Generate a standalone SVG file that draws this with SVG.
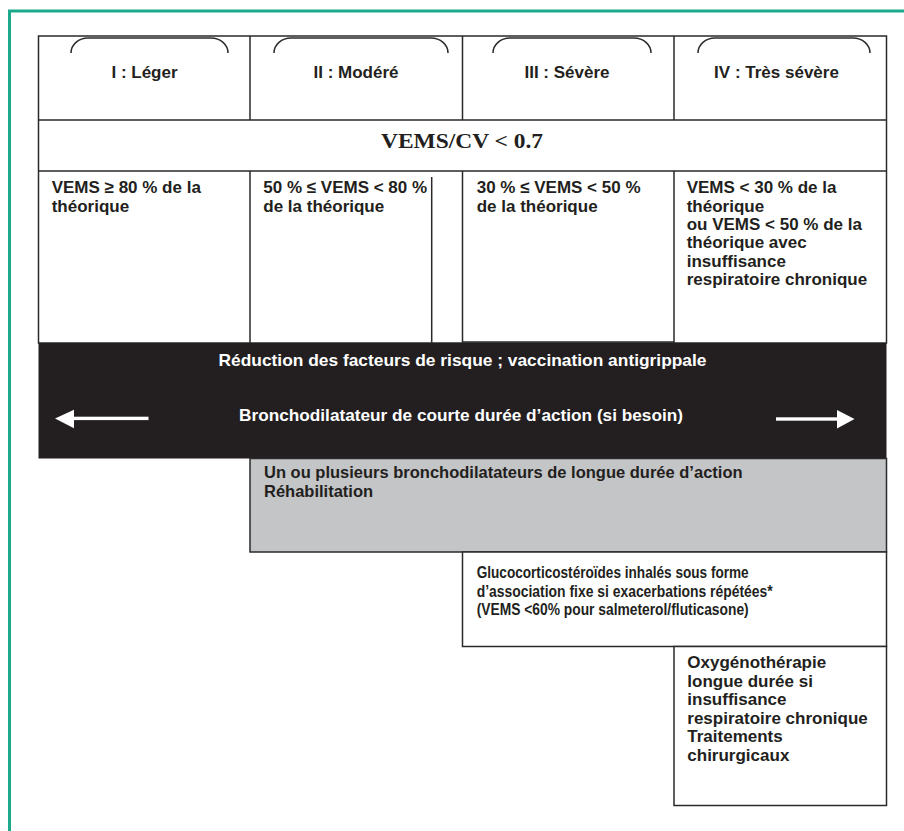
<svg xmlns="http://www.w3.org/2000/svg" width="904" height="831" viewBox="0 0 904 831">
<style>
.frame{fill:none;stroke:#1ca98c;stroke-width:3}
.ln{fill:none;stroke:#2b2a2b;stroke-width:1.5}
.box{stroke:#2b2a2b;stroke-width:1.5}
.t{font-family:"Liberation Sans",Arial,Helvetica,sans-serif;font-weight:bold;font-size:17px;fill:#231f20}
.s16{font-size:16.5px}
.n{font-size:16px}
.c{text-anchor:middle}
.w{fill:#ffffff}
.serif{font-family:"Liberation Serif","Times New Roman",serif;font-weight:bold;font-size:20px;fill:#231f20;text-anchor:middle}
.arrow{fill:#ffffff}
</style>
<rect width="904" height="831" fill="#ffffff"/>
<g id="frame">
<path class="frame" d="M9.5,831 V11 H904"/>
</g>
<g id="table">
<rect class="box" x="38.5" y="36" width="848" height="307" fill="#ffffff"/>
<path class="ln" d="M38.5,120 H886.5 M38.5,171 H886.5 M250,36 V120 M462.5,36 V120 M674,36 V120 M250,171 V343 M462.5,171 V343 M674,171 V343 M431.7,177 V343 M462.5,342 H674"/>
</g>
<g id="stage-1">
<path class="ln" d="M71,53 A17,15 0 0 1 88,38 H211 A17,15 0 0 1 228,53"/>
<text class="t c" x="144.5" y="78">I : Léger</text>
</g>
<g id="stage-2">
<path class="ln" d="M274,53 A17,15 0 0 1 291,38 H431 A17,15 0 0 1 448,53"/>
<text class="t c" x="356" y="78">II : Modéré</text>
</g>
<g id="stage-3">
<path class="ln" d="M493,53 A17,15 0 0 1 510,38 H634 A17,15 0 0 1 651,53"/>
<text class="t c" x="567" y="78">III : Sévère</text>
</g>
<g id="stage-4">
<path class="ln" d="M698,53 A17,15 0 0 1 715,38 H853 A17,15 0 0 1 870,53"/>
<text class="t c" x="776.5" y="78">IV : Très sévère</text>
</g>
<g id="ratio">
<text class="serif" x="462" y="148" textLength="162" lengthAdjust="spacingAndGlyphs">VEMS/CV &lt; 0.7</text>
</g>
<g id="crit-1">
<text class="t" x="51.7" y="193.3">VEMS ≥ 80 % de la</text>
<text class="t" x="51.7" y="211.7">théorique</text>
</g>
<g id="crit-2">
<text class="t" x="263.3" y="193.3">50 % ≤ VEMS &lt; 80 %</text>
<text class="t" x="263.3" y="211.7">de la théorique</text>
</g>
<g id="crit-3">
<text class="t" x="476.7" y="193.3">30 % ≤ VEMS &lt; 50 %</text>
<text class="t" x="476.7" y="211.7">de la théorique</text>
</g>
<g id="crit-4">
<text class="t" x="686.7" y="193.3">VEMS &lt; 30 % de la</text>
<text class="t" x="686.7" y="211.7">théorique</text>
<text class="t" x="686.7" y="230">ou VEMS &lt; 50 % de la</text>
<text class="t" x="686.7" y="248.3">théorique avec</text>
<text class="t" x="686.7" y="266.7">insuffisance</text>
<text class="t" x="686.7" y="285.2">respiratoire chronique</text>
</g>
<g id="band">
<rect x="38.5" y="343" width="848" height="115.5" fill="#231f20"/>
<text class="t c w" x="462.5" y="365.5" textLength="488" lengthAdjust="spacingAndGlyphs">Réduction des facteurs de risque ; vaccination antigrippale</text>
<text class="t c w" x="461" y="420.7" textLength="444" lengthAdjust="spacingAndGlyphs">Bronchodilatateur de courte durée d’action (si besoin)</text>
</g>
<g id="connectors">
<rect class="arrow" x="73" y="416.7" width="75.5" height="3.4"/>
<polygon class="arrow" points="55,418.4 74,409.8 74,428.2"/>
<rect class="arrow" x="776" y="417.3" width="62" height="3.4"/>
<polygon class="arrow" points="854.5,419 837,410 837,428.5"/>
</g>
<g id="long-acting">
<rect class="box" x="250" y="458.5" width="636.5" height="93.5" fill="#c4c5c7"/>
<text class="t s16" x="264" y="478">Un ou plusieurs bronchodilatateurs de longue durée d’action</text>
<text class="t s16" x="264" y="497">Réhabilitation</text>
</g>
<g id="ics">
<rect class="box" x="462.5" y="552" width="424" height="94.5" fill="#ffffff"/>
<text class="t n" x="476.7" y="578" textLength="272" lengthAdjust="spacingAndGlyphs">Glucocorticostéroïdes inhalés sous forme</text>
<text class="t n" x="476.7" y="596.5" textLength="296" lengthAdjust="spacingAndGlyphs">d’association fixe si exacerbations répétées*</text>
<text class="t n" x="476.7" y="615" textLength="272" lengthAdjust="spacingAndGlyphs">(VEMS &lt;60% pour salmeterol/fluticasone)</text>
</g>
<g id="oxygen">
<rect class="box" x="674" y="646.5" width="212.5" height="159" fill="#ffffff"/>
<text class="t" x="687.3" y="668.3">Oxygénothérapie</text>
<text class="t" x="687.3" y="686.7">longue durée si</text>
<text class="t" x="687.3" y="705">insuffisance</text>
<text class="t" x="687.3" y="723.5">respiratoire chronique</text>
<text class="t" x="687.3" y="742">Traitements</text>
<text class="t" x="687.3" y="760.5">chirurgicaux</text>
</g>
</svg>
